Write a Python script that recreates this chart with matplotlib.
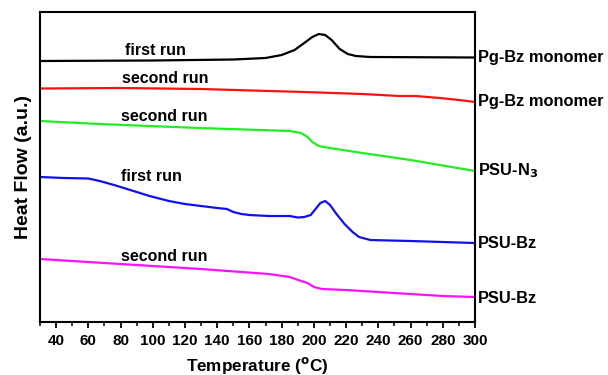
import matplotlib.pyplot as plt

plt.rcParams['font.family'] = ['Liberation Sans', 'DejaVu Sans']
plt.rcParams['font.weight'] = 'bold'

# temperature (C) and heat flow (arbitrary, offset traces; larger = lower on plot)
t_black = [30, 100, 150, 170, 180, 188, 194, 199, 203, 207, 211, 216, 221, 226, 235, 300]
y_black = [61, 60.5, 59.5, 58, 55, 50, 43, 37, 34, 35, 40, 49, 54, 56, 57, 57.5]

t_red = [30, 80, 130, 194, 230, 253, 263, 278, 290, 300]
y_red = [88.5, 88, 89, 92, 94, 96, 96, 98, 100, 102]

t_green = [30, 67, 129, 185, 192, 196, 199, 203, 206, 230, 260, 300]
y_green = [121, 124, 128, 131, 133, 137, 142, 146, 147, 153, 160, 171]

t_blue = [30, 45, 60, 67, 76, 86, 98, 110, 120, 130, 140, 146, 150, 155, 160, 172, 185, 190,
          194, 198, 201, 204, 207, 210, 214, 219, 224, 228, 235, 260, 300]
y_blue = [177, 178, 178.5, 181, 185, 190, 196, 201, 204, 206, 208, 209, 212, 214, 215, 216, 216, 217.5,
          217, 215, 209, 203, 201, 205, 214, 224, 232, 237, 240, 241, 243]

t_mag = [30, 80, 130, 172, 185, 192, 196, 200, 205, 220, 250, 280, 300]
y_mag = [259, 264, 269, 274, 277, 281, 283, 287, 289, 290, 293, 296, 297]

run_labels = ['first run', 'second run', 'second run', 'first run', 'second run']
run_pos = [(155, 50), (165, 78), (164, 116), (151, 176), (164, 256)]
side_labels = ['Pg-Bz monomer', 'Pg-Bz monomer', 'PSU-N$_3$', 'PSU-Bz', 'PSU-Bz']
side_y = [57, 101, 171, 243, 298]

fig = plt.figure(figsize=(6.08, 3.75), dpi=100)
ax = fig.add_axes([0.0658, 0.1413, 0.7155, 0.8267])

ax.plot(t_black, y_black, color='black', lw=1.6)
ax.plot(t_red, y_red, color='#ff1010', lw=1.6)
ax.plot(t_green, y_green, color='#22ee22', lw=1.6)
ax.plot(t_blue, y_blue, color='#1010ee', lw=1.6)
ax.plot(t_mag, y_mag, color='#ff10ff', lw=1.6)

ax.set_xlim(30, 300)
ax.set_ylim(322, 12)

px_to_t = lambda px: 30 + (px - 40) / 1.6115
for lab, (px, py) in zip(run_labels, run_pos):
    ax.text(px_to_t(px), py, lab, ha='center', va='center', fontsize=11.5, fontweight='bold')
for lab, yy in zip(side_labels, side_y):
    ax.text(302, yy, lab, ha='left', va='center', fontsize=11.8, fontweight='bold', clip_on=False)

ax.set_xticks(range(40, 301, 20))
ax.set_xticks(range(30, 301, 10), minor=True)
ax.set_yticks([])
ax.tick_params(axis='x', which='major', direction='out', length=4.5, width=1.3, labelsize=11, pad=4)
ax.tick_params(axis='x', which='minor', direction='out', length=2.8, width=1.1)
for lbl in ax.get_xticklabels():
    lbl.set_fontweight('bold')
for s in ax.spines.values():
    s.set_linewidth(1.5)

ax.set_xlabel('Temperature ($^\\mathbf{o}$C)', fontsize=12.3, fontweight='bold', labelpad=5)
ax.set_ylabel('Heat Flow (a.u.)', fontsize=14, fontweight='bold', labelpad=6)

plt.savefig('out.png', dpi=100)
